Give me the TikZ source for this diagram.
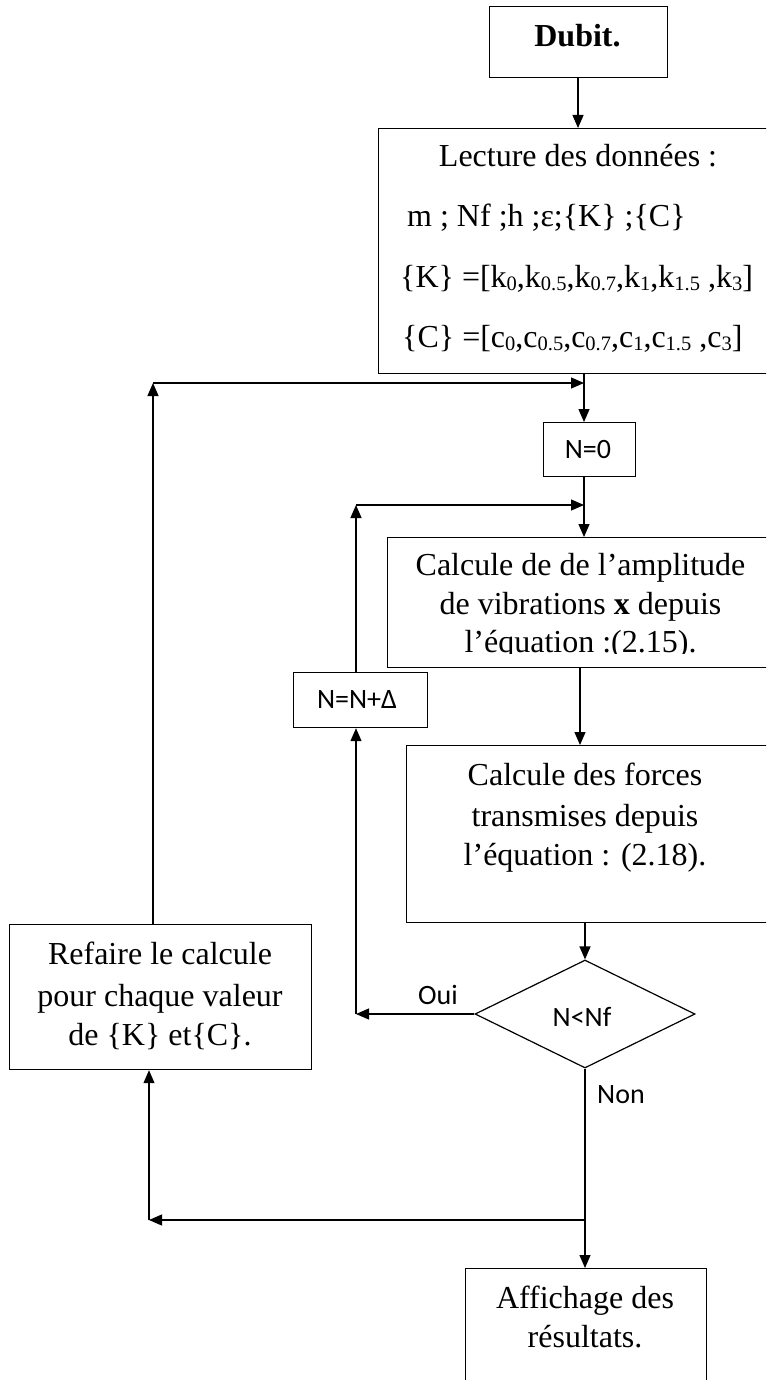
\documentclass[tikz,border=0pt]{standalone}
\usepackage{fontspec}
\setmainfont{Liberation Serif}
\newfontfamily\calibri{Carlito}
\usetikzlibrary{arrows.meta,shapes.geometric}
\newcommand{\sbs}[1]{\raisebox{-3.8pt}{\fontsize{20.5}{20.5}\selectfont #1}}
\tikzset{
  box/.style={draw, line width=1.2pt, inner sep=0pt, anchor=north west},
  txt/.style={font=\fontsize{32}{40}\selectfont, inner sep=0pt},
  sans/.style={font=\calibri\fontsize{28}{30}\selectfont, inner sep=0pt},
  conn/.style={line width=1.2pt},
  arr/.style={line width=1.2pt, -{Triangle[length=13pt,width=11pt]}},
}
\begin{document}
\begin{tikzpicture}[x=1pt,y=-1pt]
\useasboundingbox (0,0) rectangle (766,1380);
\clip (0,0) rectangle (766,1380);
\fill[white] (0,0) rectangle (766,1380);

% boxes
\node[box, minimum width=178pt, minimum height=71pt] (dubit) at (489,6) {};
\node[box, minimum width=397pt, minimum height=245pt] (lect) at (378,128) {};
\node[box, minimum width=92pt, minimum height=54pt] (n0) at (543,422) {};
\node[box, minimum width=388pt, minimum height=130pt] (calc) at (387,537) {};
\node[box, minimum width=134pt, minimum height=55pt] (nn) at (293,672) {};
\node[box, minimum width=369pt, minimum height=177pt] (forces) at (406,745) {};
\node[box, minimum width=302pt, minimum height=145pt] (refaire) at (9,924) {};
\node[box, minimum width=241pt, minimum height=140pt] (aff) at (465,1268) {};
\node[draw, line width=1.2pt, diamond, minimum width=220pt, minimum height=108pt, inner sep=0pt] (dec) at (585,1014) {};

% texts
\node[txt, anchor=base, font=\fontsize{32}{40}\selectfont\bfseries] (tdubit) at (577.5,47) {Dubit.};
\node[txt, anchor=base] (tl1) at (578,167) {Lecture des données :};
\node[txt, anchor=base west] (tl2) at (407,227) {m ; Nf ;h ;ε;\{K\} ;\{C\}};
\node[txt, anchor=base west] (tl3) at (400,287) {\{K\} =[k\sbs{0},k\sbs{0.5},k\sbs{0.7},k\sbs{1},k\sbs{1.5} ,k\sbs{3}]};
\node[txt, anchor=base west] (tl4) at (402,347) {\{C\} =[c\sbs{0},c\sbs{0.5},c\sbs{0.7},c\sbs{1},c\sbs{1.5} ,c\sbs{3}]};
\node[sans, anchor=center] (tn0) at (588,450) {N=0};
\begin{scope}
\clip (387,537) rectangle (775,653.5);
\node[txt, anchor=base] (tc1) at (580.5,575) {Calcule de de l’amplitude};
\node[txt, anchor=base] (tc2) at (580.5,614) {de vibrations \textbf{x} depuis};
\node[txt, anchor=base] (tc3) at (580.5,652) {l’équation :(2.15).};
\end{scope}
\node[sans, anchor=center] (tnn) at (357,700) {N=N+Δ};
\node[txt, anchor=base] (tf1) at (585,785) {Calcule des forces};
\node[txt, anchor=base] (tf2) at (585,826) {transmises depuis};
\node[txt, anchor=base] (tf3) at (585,865) {l’équation : (2.18).};
\node[sans, anchor=center] (tdec) at (582,1017) {N<Nf};
\node[txt, anchor=base] (tr1) at (160,964) {Refaire le calcule};
\node[txt, anchor=base] (tr2) at (160,1006) {pour chaque valeur};
\node[txt, anchor=base] (tr3) at (160,1045) {de \{K\} et\{C\}.};
\node[txt, anchor=base] (ta1) at (585,1308) {Affichage des};
\node[txt, anchor=base] (ta2) at (585,1347) {résultats.};
\node[sans, anchor=center] (oui) at (438,995) {Oui};
\node[sans, anchor=center] (non) at (621,1095) {Non};

% junction coordinates
\coordinate (j1) at (584,383);
\coordinate (k1) at (153,383);
\coordinate (j2) at (584,505);
\coordinate (k2) at (356,505);
\coordinate (j3) at (356,1014);
\coordinate (j4) at (585,1220);
\coordinate (k4) at (149,1220);

% connectors
\draw[arr] (dubit.south -| 578,0) -- (lect.north -| 578,0);
\draw[conn] (lect.south -| j1) -- (j1);
\draw[arr] (j1) -- (n0.north -| j1);
\draw[arr] (refaire.north -| k1) -- (k1);
\draw[arr] (k1) -- (j1);
\draw[conn] (n0.south -| j2) -- (j2);
\draw[arr] (j2) -- (calc.north -| j2);
\draw[arr] (nn.north -| k2) -- (k2);
\draw[arr] (k2) -- (j2);
\draw[arr] (calc.south -| 580,0) -- (forces.north -| 580,0);
\draw[arr] (forces.south -| dec.north) -- (dec.north);
\draw[arr] (dec.west) -- (j3);
\draw[arr] (j3) -- (nn.south -| j3);
\draw[conn] (dec.south) -- (j4);
\draw[arr] (j4) -- (aff.north -| j4);
\draw[arr] (j4) -- (k4);
\draw[arr] (k4) -- (refaire.south -| k4);
\end{tikzpicture}
\end{document}
